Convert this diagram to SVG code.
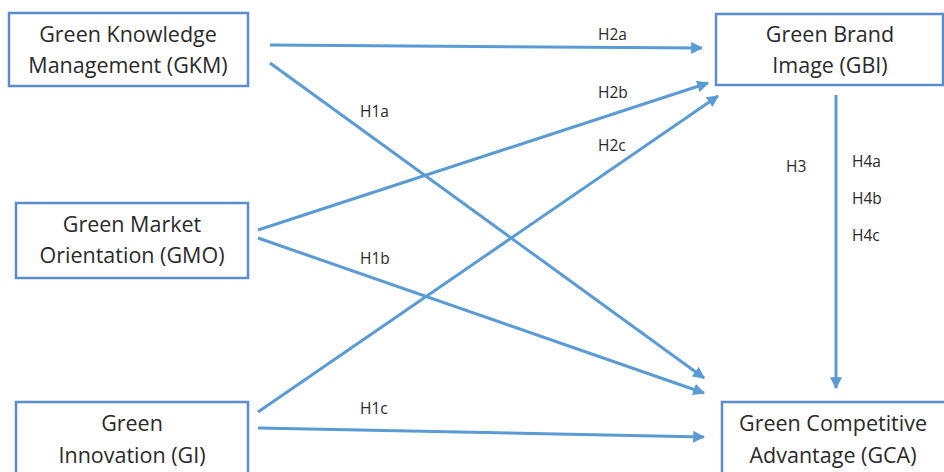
<svg xmlns="http://www.w3.org/2000/svg" width="944" height="472" viewBox="0 0 944 472">
<defs>
<marker id="ah" viewBox="0 0 10 10" refX="9" refY="5" markerWidth="4" markerHeight="4" orient="auto" markerUnits="strokeWidth">
<path d="M0,0 L10,5 L0,10 z" fill="#5b9bd5"/>
</marker>
<style>
.box{fill:#fff;stroke:#5b8ccb;stroke-width:2.5}
.t{font-family:"Open Sans","Liberation Sans",sans-serif;font-size:21.5px;fill:#2a2a2a;text-anchor:middle}
.l{font-family:"Open Sans","Liberation Sans",sans-serif;font-size:15.5px;fill:#2a2a2a}
.c{stroke:#5b9bd5;stroke-width:3;fill:none;marker-end:url(#ah)}
</style>
</defs>
<rect width="944" height="472" fill="#fff"/>
<g id="connectors">
<line class="c" x1="270" y1="45" x2="702" y2="48"/>
<line class="c" x1="270" y1="63" x2="704" y2="378"/>
<line class="c" x1="258" y1="230" x2="708" y2="83"/>
<line class="c" x1="258" y1="238" x2="704" y2="393"/>
<line class="c" x1="258" y1="412" x2="718" y2="96"/>
<line class="c" x1="258" y1="428" x2="704" y2="437"/>
<line class="c" x1="836" y1="95" x2="836" y2="388"/>
</g>
<g id="labels">
<text class="l" x="598" y="40">H2a</text>
<text class="l" x="360" y="117">H1a</text>
<text class="l" x="598" y="98">H2b</text>
<text class="l" x="598" y="151">H2c</text>
<text class="l" x="786" y="172">H3</text>
<text class="l" x="852" y="167">H4a</text>
<text class="l" x="852" y="204">H4b</text>
<text class="l" x="852" y="241">H4c</text>
<text class="l" x="360" y="264">H1b</text>
<text class="l" x="360" y="414">H1c</text>
</g>
<g id="GKM">
<rect class="box" x="9" y="13" width="239" height="73"/>
<text class="t" x="128" y="42">Green Knowledge</text>
<text class="t" x="128" y="73">Management (GKM)</text>
</g>
<g id="GBI">
<rect class="box" x="716" y="14" width="227" height="71"/>
<text class="t" x="830" y="42">Green Brand</text>
<text class="t" x="830" y="73">Image (GBI)</text>
</g>
<g id="GMO">
<rect class="box" x="16" y="203" width="232" height="75"/>
<text class="t" x="132" y="232">Green Market</text>
<text class="t" x="132" y="263">Orientation (GMO)</text>
</g>
<g id="GI">
<rect class="box" x="16" y="402" width="232" height="80"/>
<text class="t" x="132" y="431">Green</text>
<text class="t" x="132" y="463">Innovation (GI)</text>
</g>
<g id="GCA">
<rect class="box" x="722" y="402" width="230" height="80"/>
<text class="t" x="833" y="431">Green Competitive</text>
<text class="t" x="833" y="463">Advantage (GCA)</text>
</g>
</svg>
